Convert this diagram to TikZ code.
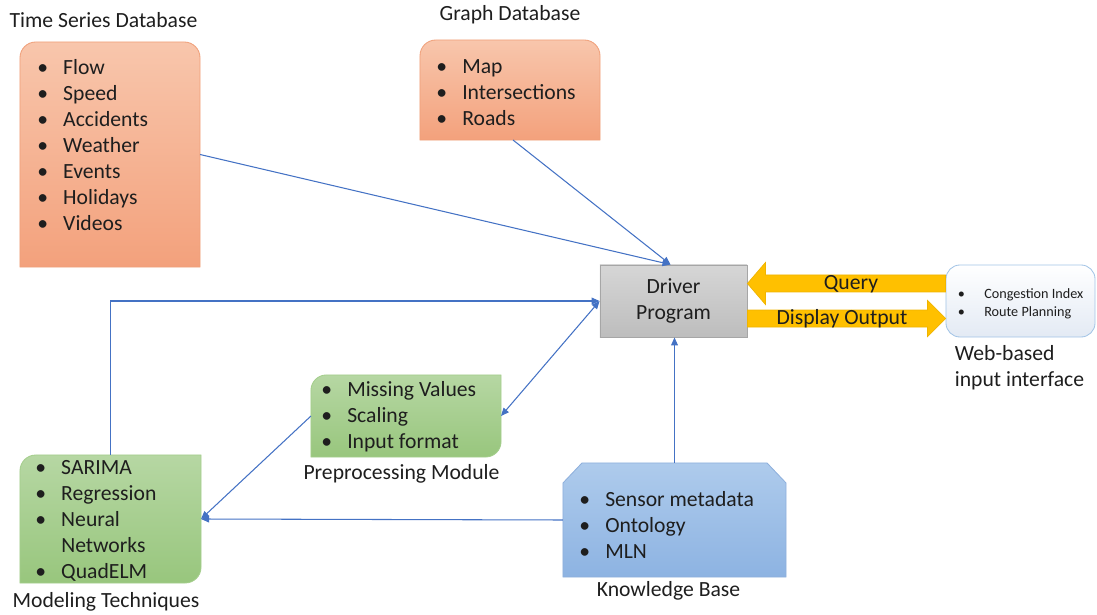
\documentclass[tikz,border=0pt]{standalone}
\usepackage{fontspec}
\setmainfont{Carlito}
\usetikzlibrary{positioning,arrows.meta,calc}

\definecolor{orangetop}{HTML}{F8C6AC}
\definecolor{orangebot}{HTML}{F3A17C}
\definecolor{orangeline}{HTML}{F0A07A}
\definecolor{greentop}{HTML}{B6D7A3}
\definecolor{greenbot}{HTML}{98C67D}
\definecolor{greenline}{HTML}{A4CE8C}
\definecolor{bluetop}{HTML}{AECBEC}
\definecolor{bluebot}{HTML}{8DB3E2}
\definecolor{blueline}{HTML}{8FB0DC}
\definecolor{graytop}{HTML}{D6D6D6}
\definecolor{graybot}{HTML}{BDBDBD}
\definecolor{grayline}{HTML}{A6A6A6}
\definecolor{gold}{HTML}{FFC000}
\definecolor{goldline}{HTML}{F0B400}
\definecolor{webline}{HTML}{A2C4E6}
\definecolor{webbot}{HTML}{E3EAF4}
\definecolor{linkblue}{HTML}{4472C4}
\definecolor{textgray}{HTML}{1E1E1E}

\newcommand{\bitem}[1]{\strut\makebox[0.65cm][l]{\textbullet}#1}
\newcommand{\sitem}[1]{\strut\makebox[0.66cm][l]{\textbullet}#1}

\begin{document}
\begin{tikzpicture}[x=0.025cm, y=-0.025cm,
    font=\fontsize{15.4}{18.5}\selectfont, text=textgray,
    >={Triangle[length=2mm,width=1.7mm]},
    boxframe/.style={inner sep=0pt, outer sep=0pt},
    itemlist/.style={inner sep=0pt, anchor=north west, align=left},
    caption/.style={inner sep=0pt, anchor=base},
    orangebox/.style={draw=orangeline, line width=0.6pt, top color=orangetop, bottom color=orangebot},
    greenbox/.style={draw=greenline, line width=0.6pt, top color=greentop, bottom color=greenbot},
    bluebox/.style={draw=blueline, line width=0.6pt, top color=bluetop, bottom color=bluebot},
    driverbox/.style={draw=grayline, line width=0.6pt, top color=graytop, bottom color=graybot, minimum width=3.675cm, minimum height=1.8cm, inner sep=0pt, align=center},
    webbox/.style={draw=webline, line width=0.6pt, top color=white, bottom color=webbot, rounded corners=0.35cm, minimum width=3.725cm, minimum height=1.8cm, inner sep=0pt},
    blockarrow/.style={fill=gold, draw=goldline, line width=0.5pt},
    conn/.style={draw=linkblue, line width=0.75pt, ->}
  ]
    \useasboundingbox (0,0) rectangle (1097,615);

    % Frames of the boxes.
    \node[boxframe, minimum width=4.5cm, minimum height=5.625cm] (tsdb) at (110,154.5) {};
    \node[boxframe, minimum width=4.5cm, minimum height=2.5cm] (gdb) at (510,90) {};
    \node[boxframe, minimum width=4.75cm, minimum height=2.05cm] (prep) at (406,416) {};
    \node[boxframe, minimum width=4.525cm, minimum height=3.2cm] (model) at (110.5,519) {};
    \node[boxframe, minimum width=5.575cm, minimum height=2.85cm] (kbase) at (674.5,520) {};

    % Databases: top corners rounded.
    \draw[orangebox] (tsdb.south west) -- ($(tsdb.north west)+(0,16)$) .. controls ($(tsdb.north west)+(0,7)$) and ($(tsdb.north west)+(7,0)$) .. ($(tsdb.north west)+(16,0)$)
      -- ($(tsdb.north east)+(-16,0)$) .. controls ($(tsdb.north east)+(-7,0)$) and ($(tsdb.north east)+(0,7)$) .. ($(tsdb.north east)+(0,16)$) -- (tsdb.south east) -- cycle;
    \draw[orangebox] (gdb.south west) -- ($(gdb.north west)+(0,16)$) .. controls ($(gdb.north west)+(0,7)$) and ($(gdb.north west)+(7,0)$) .. ($(gdb.north west)+(16,0)$)
      -- ($(gdb.north east)+(-16,0)$) .. controls ($(gdb.north east)+(-7,0)$) and ($(gdb.north east)+(0,7)$) .. ($(gdb.north east)+(0,16)$) -- (gdb.south east) -- cycle;

    % Preprocessing and models: diagonal corners rounded.
    \draw[greenbox] (prep.south west) -- ($(prep.north west)+(0,15)$) .. controls ($(prep.north west)+(0,7)$) and ($(prep.north west)+(7,0)$) .. ($(prep.north west)+(15,0)$)
      -- (prep.north east) -- ($(prep.south east)+(0,-15)$) .. controls ($(prep.south east)+(0,-7)$) and ($(prep.south east)+(-7,0)$) .. ($(prep.south east)+(-15,0)$) -- cycle;
    \draw[greenbox] (model.south west) -- ($(model.north west)+(0,16)$) .. controls ($(model.north west)+(0,7)$) and ($(model.north west)+(7,0)$) .. ($(model.north west)+(16,0)$)
      -- (model.north east) -- ($(model.south east)+(0,-16)$) .. controls ($(model.south east)+(0,-7)$) and ($(model.south east)+(-7,0)$) .. ($(model.south east)+(-16,0)$) -- cycle;

    % Knowledge base: top corners snipped.
    \draw[bluebox] (kbase.south west) -- ($(kbase.north west)+(0,20)$) -- ($(kbase.north west)+(19,0)$) -- ($(kbase.north east)+(-19,0)$) -- ($(kbase.north east)+(0,20)$) -- (kbase.south east) -- cycle;

    % Driver and web interface.
    \node[driverbox] (drv) at (673.5,301) {\raisebox{-0.06cm}{Driver}\\\raisebox{-0.06cm}{Program}};
    \node[webbox] (webui) at (1020.5,301) {};

    % Item lists.
    \node[itemlist] at ([xshift=0.425cm,yshift=-0.35cm]tsdb.north west) (tslist) {\bitem{Flow}\\\bitem{Speed}\\\bitem{Accidents}\\\bitem{Weather}\\\bitem{Events}\\\bitem{Holidays}\\\bitem{Videos}};
    \node[itemlist] at ([xshift=0.4cm,yshift=-0.375cm]gdb.north west) (glist) {\bitem{Map}\\\bitem{Intersections}\\\bitem{Roads}};
    \node[itemlist] at ([xshift=0.25cm,yshift=-0.075cm]prep.north west) (plist) {\bitem{Missing Values}\\\bitem{Scaling}\\\bitem{Input format}};
    \node[itemlist] at ([xshift=0.375cm,yshift=-0.025cm]model.north west) (mlist) {\bitem{SARIMA}\\\bitem{Regression}\\\bitem{Neural}\\\hspace{0.65cm}Networks\\\bitem{QuadELM}};
    \node[itemlist] at ([xshift=0.4cm,yshift=-0.625cm]kbase.north west) (klist) {\bitem{Sensor metadata}\\\bitem{Ontology}\\\bitem{MLN}};
    \node[itemlist, font=\fontsize{10.1}{12.8}\selectfont] at ([xshift=0.3cm,yshift=-0.53cm]webui.north west) (wlist) {\sitem{Congestion Index}\\\sitem{Route Planning}};

    % Captions.
    \node[caption] at ([xshift=-0.1625cm,yshift=0.3625cm]tsdb.north) (tscap) {Time Series Database};
    \node[caption] at ([yshift=0.4875cm]gdb.north) (gcap) {Graph Database};
    \node[caption] at ([xshift=-0.1125cm,yshift=-0.5625cm]prep.south) (pcap) {Preprocessing Module};
    \node[caption] at ([xshift=-0.1125cm,yshift=-0.6125cm]model.south) (mcap) {Modeling Techniques};
    \node[caption] at ([xshift=-0.15cm,yshift=-0.4875cm]kbase.south) (kcap) {Knowledge Base};
    \node[itemlist] at ([xshift=0.225cm,yshift=-0.125cm]webui.south west) (wcap) {\strut Web-based\\\strut input interface};

    % Query and output between driver and web interface.
    \coordinate (qtip) at ([yshift=0.4375cm]drv.east);
    \coordinate (qtail) at (webui.west |- qtip);
    \filldraw[blockarrow] (qtip) -- ++(18,-21) -- ++(0,12.5) -- ($(qtail)+(0,-8.5)$) -- ($(qtail)+(0,8.5)$) -- ($(qtip)+(18,8.5)$) -- ++(0,12.5) -- cycle;
    \node[caption] at ([xshift=0.1125cm,yshift=-0.15cm]$(qtip)!0.5!(qtail)$) (qlabel) {Query};
    \coordinate (dtail) at ([yshift=-0.4375cm]drv.east);
    \coordinate (dtip) at (webui.west |- dtail);
    \filldraw[blockarrow] ($(dtail)+(0,-8.5)$) -- ($(dtip)+(-18,-8.5)$) -- ++(0,-9.5) -- (dtip) -- ($(dtip)+(-18,18)$) -- ++(0,-9.5) -- ($(dtail)+(0,8.5)$) -- cycle;
    \node[caption] at ([xshift=-0.1125cm,yshift=-0.15cm]$(dtail)!0.5!(dtip)$) (dlabel) {Display Output};

    % Connectors.
    \draw[conn] (tsdb.east) -- ([xshift=-0.075cm]drv.north);
    \draw[conn] ([xshift=0.075cm]gdb.south) -- ([xshift=-0.075cm]drv.north);
    \draw[conn] (model.north) |- (drv.west);
    \draw[conn, <->] (prep.east) -- (drv.west);
    \draw[conn] (prep.west) -- (model.east);
    \draw[conn] (kbase.west) -- (model.east);
    \draw[conn] (kbase.north) -- (kbase.north |- drv.south);
  \end{tikzpicture}
\end{document}
